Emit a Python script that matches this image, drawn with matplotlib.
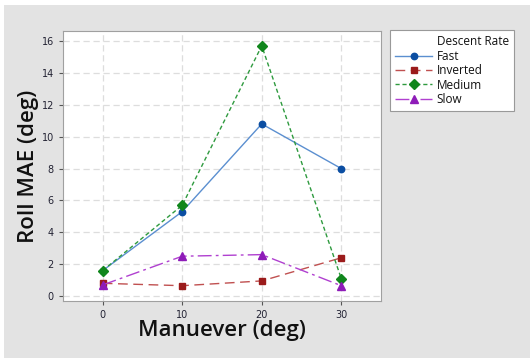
import matplotlib.pyplot as plt
from matplotlib.patches import Rectangle
from matplotlib.lines import Line2D

# Roll error by manoeuvre angle for each descent rate
maneuver = [0, 10, 20, 30]
fast = [1.6, 5.3, 10.8, 8.0]
inverted = [0.8, 0.65, 0.95, 2.4]
medium = [1.6, 5.7, 15.7, 1.1]
slow = [0.7, 2.5, 2.6, 0.65]

fig = plt.figure(figsize=(5.3, 3.58), dpi=100, facecolor='#e3e3e3')
# thin white margin along the top and left edges
fig.patches.append(Rectangle((0, 1 - 5 / 358), 1, 5 / 358, transform=fig.transFigure,
                             facecolor='white', edgecolor='none'))
fig.patches.append(Rectangle((0, 0), 4 / 530, 1, transform=fig.transFigure,
                             facecolor='white', edgecolor='none'))

ax = fig.add_axes([63 / 530, 1 - 301 / 358, 318 / 530, 270 / 358])
ax.set_facecolor('white')

ax.plot(maneuver, fast, color='#5b8fd0', lw=1, ls='-', marker='o', ms=4.6,
        mfc='#0b4ea2', mec='#0b4ea2', label='Fast', zorder=3)
ax.plot(maneuver, inverted, color='#c05050', lw=1, ls=(0, (7, 4)), marker='s', ms=5,
        mfc='#9b1b1b', mec='#9b1b1b', label='Inverted', zorder=3)
ax.plot(maneuver, medium, color='#2e9a3e', lw=1, ls=(0, (3, 2)), marker='D', ms=4.6,
        mfc='#10861c', mec='#10861c', label='Medium', zorder=3)
ax.plot(maneuver, slow, color='#b040d0', lw=1, ls=(0, (10, 3, 2, 3)), marker='^', ms=5.5,
        mfc='#8e1cb8', mec='#8e1cb8', label='Slow', zorder=3)

ax.set_xlim(-5, 35)
ax.set_ylim(-0.31, 16.63)
ax.set_xticks(maneuver)
ax.set_yticks(range(0, 17, 2))
ax.tick_params(labelsize=7, length=3, color='#555555', labelcolor='#222233')
ax.grid(True, color='#dddddd', ls=(0, (5, 3)), lw=0.9)
ax.set_axisbelow(True)
for s in ax.spines.values():
    s.set_color('#a0a0a0')

label_font = dict(family='Open Sans', fontsize=16, fontweight='semibold', color='#111111')
ax.set_xlabel('Manuever (deg)', labelpad=0, **label_font)
ax.set_ylabel('Roll MAE (deg)', labelpad=2, **label_font)

# legend title sits in the label column, so it goes in as a blank-handle entry
handles, labels = ax.get_legend_handles_labels()
blank = Line2D([], [], color='none')
leg = fig.legend([blank] + handles, ['Descent Rate'] + labels,
                 loc='upper left', bbox_to_anchor=(390 / 530, 1 - 30 / 358),
                 prop=dict(family='Open Sans', size=8.5),
                 frameon=True, fancybox=False, edgecolor='#999999',
                 facecolor='white', framealpha=1,
                 borderpad=0.45, labelspacing=0.12, handlelength=3.1,
                 handletextpad=0.4, borderaxespad=0)
leg.get_frame().set_linewidth(0.8)
for t in leg.get_texts():
    t.set_color('#111111')

fig.savefig('out.png', dpi=100, facecolor=fig.get_facecolor())
